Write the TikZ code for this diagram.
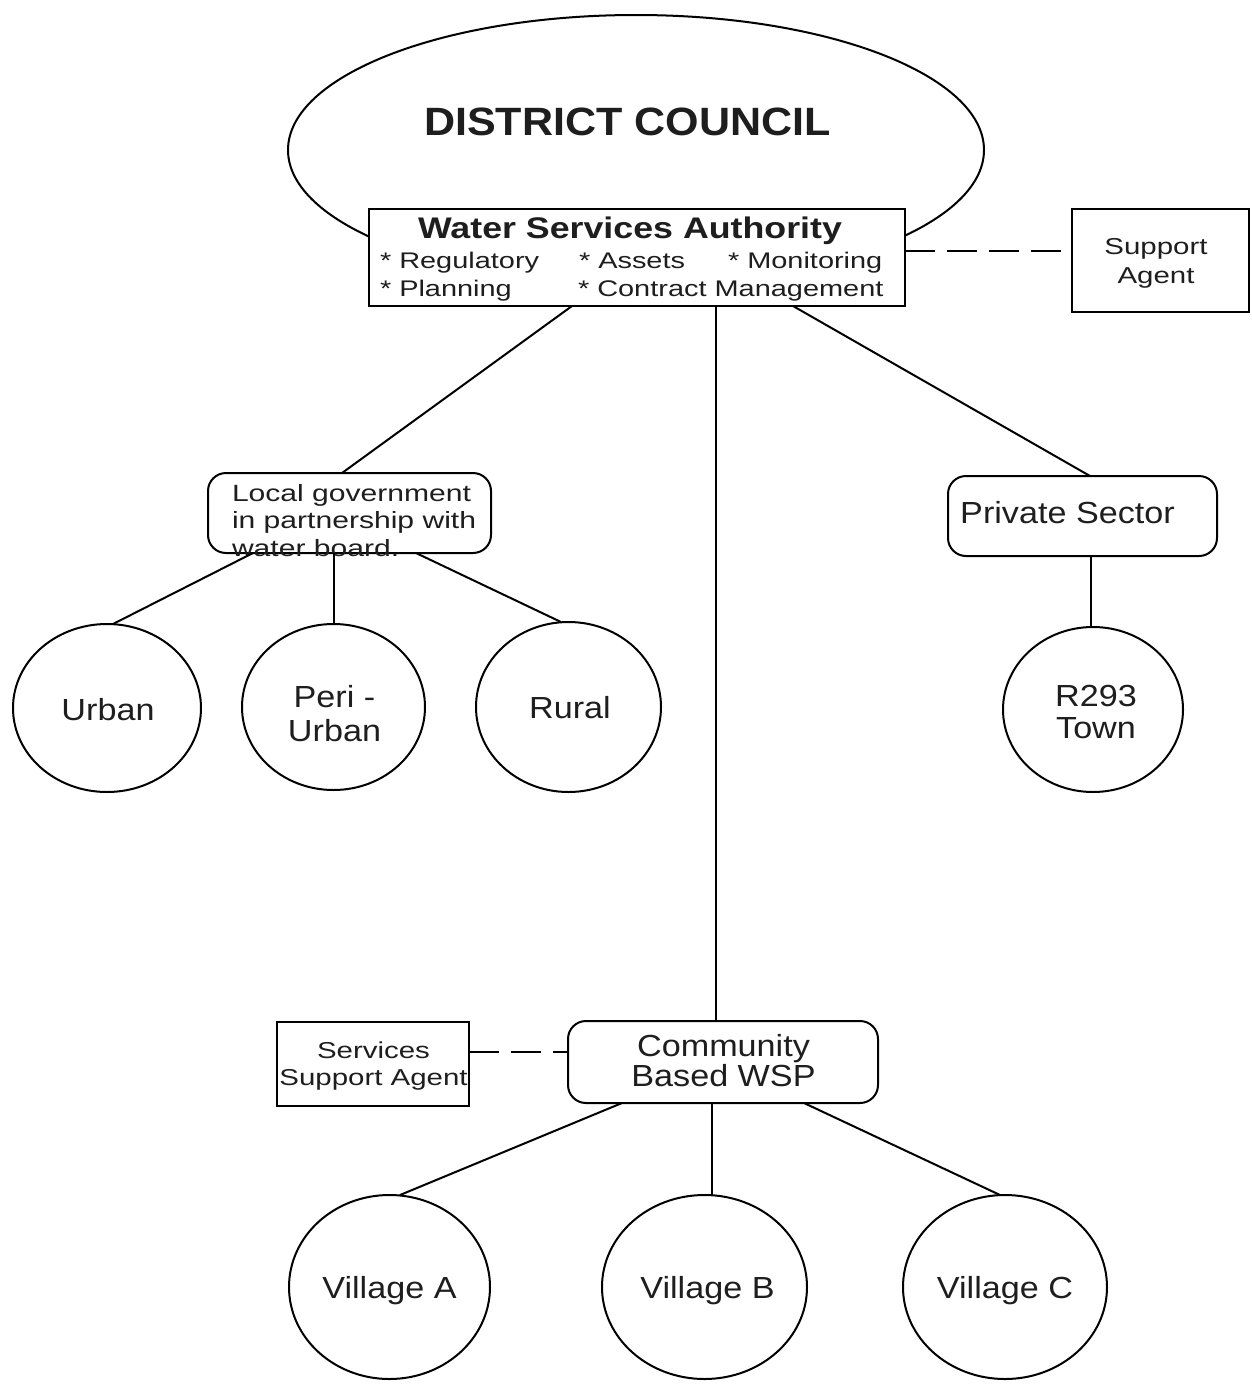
\documentclass[tikz,border=0pt]{standalone}
\usepackage{fontspec}
\setmainfont{Liberation Sans}
\newfontfamily\mainfam[FakeStretch=1.12]{Liberation Sans}
\newfontfamily\smallfam[FakeStretch=1.28]{Liberation Sans}
\newfontfamily\titlefam[FakeStretch=1.09]{Liberation Sans}
\newfontfamily\wsafam[FakeStretch=1.2]{Liberation Sans}
\usetikzlibrary{shapes.geometric}
\definecolor{ink}{HTML}{1E1E1E}
\begin{document}
\begin{tikzpicture}[x=1pt,y=-1pt,
  every node/.style={inner sep=0pt, outer sep=0pt},
  conn/.style={draw=black, line width=2pt},
  dashconn/.style={draw=black, line width=2pt, dash pattern=on 30pt off 12pt},
  sqbox/.style={draw=black, line width=2pt, fill=white, rectangle},
  rbox/.style={draw=black, line width=2pt, fill=white, rectangle, rounded corners=18pt},
  oval/.style={draw=black, line width=2pt, ellipse, fill=white},
  maintxt/.style={text=ink, align=center, font=\mainfam\fontsize{30.5}{34}\selectfont},
  smalltxt/.style={text=ink, align=center, font=\smallfam\fontsize{23}{28.5}\selectfont},
  bullettxt/.style={text=ink, anchor=base west, font=\smallfam\fontsize{22.6}{28.5}\selectfont},
]
\useasboundingbox[fill=white] (0,0) rectangle (1251,1384);

% District council
\node[oval, minimum width=696pt, minimum height=270pt] (dc) at (636,150) {};
\node[anchor=base, text=ink, font=\titlefam\bfseries\fontsize{39.5}{42}\selectfont] (dcT) at (627.5,135) {DISTRICT COUNCIL};

% Water Services Authority
\node[sqbox, minimum width=536pt, minimum height=97pt] (wsa) at (637,257.5) {};
\node[anchor=base, text=ink, font=\wsafam\bfseries\fontsize{29.8}{32}\selectfont] (wsaT) at (630,238) {Water Services Authority};
\node[bullettxt] (b1) at (380,268) {* Regulatory};
\node[bullettxt] (b2) at (579,268) {* Assets};
\node[bullettxt] (b3) at (728,268) {* Monitoring};
\node[bullettxt] (b4) at (380,296.5) {* Planning};
\node[bullettxt] (b5) at (578,296.5) {* Contract Management};

% Support agent
\node[sqbox, minimum width=177pt, minimum height=103pt] (sa) at (1160.5,260.5) {};
\node[smalltxt] (saT) at (1156,263.6) {Support\\Agent};

% Local government
\node[rbox, minimum width=283pt, minimum height=80pt] (lg) at (349.5,513) {};
\node[smalltxt, align=left, anchor=north west, font=\smallfam\fontsize{23.5}{27.5}\selectfont] (lgT) at (232,484) {Local government\\in partnership with\\water board.};

% Private sector
\node[rbox, minimum width=269pt, minimum height=80pt] (ps) at (1082.5,516) {};
\node[maintxt, anchor=base] (psT) at (1067.5,523.3) {Private Sector};

% Circles second level
\node[oval, minimum width=188pt, minimum height=168pt] (urban) at (107,708) {};
\node[maintxt, anchor=base] (urbanT) at (108,720) {Urban};
\node[oval, minimum width=183pt, minimum height=166pt] (peri) at (333.5,707) {};
\node[maintxt, font=\mainfam\fontsize{30.5}{34}\selectfont] (periT) at (334.5,713.9) {Peri -\\Urban};
\node[oval, minimum width=185pt, minimum height=170pt] (rural) at (568.5,707) {};
\node[maintxt, anchor=base] (ruralT) at (570,718) {Rural};
\node[oval, minimum width=180pt, minimum height=165pt] (town) at (1093,709.5) {};
\node[maintxt, font=\mainfam\fontsize{30.5}{32}\selectfont] (townT) at (1096,711.7) {R293\\Town};

% Community based WSP
\node[rbox, minimum width=310pt, minimum height=82pt] (cb) at (723,1062) {};
\node[maintxt, font=\mainfam\fontsize{30.5}{30}\selectfont] (cbT) at (723.5,1061) {Community\\Based WSP};

% Services support agent
\node[sqbox, minimum width=192pt, minimum height=84pt] (ssa) at (373,1064) {};
\node[smalltxt, font=\smallfam\fontsize{23}{27.3}\selectfont] (ssaT) at (373.5,1065.7) {Services\\Support Agent};

% Villages
\node[oval, minimum width=201pt, minimum height=184pt] (va) at (389.5,1287) {};
\node[maintxt, anchor=base] (vaT) at (389.5,1298) {Village A};
\node[oval, minimum width=205pt, minimum height=184pt] (vb) at (704.5,1287) {};
\node[maintxt, anchor=base] (vbT) at (707.5,1298) {Village B};
\node[oval, minimum width=204pt, minimum height=184pt] (vc) at (1005,1287) {};
\node[maintxt, anchor=base] (vcT) at (1005,1298) {Village C};

% Connectors
\draw[conn] ([xshift=-65pt]wsa.south) -- ([xshift=-7.5pt]lg.north);
\draw[conn] ([xshift=79pt]wsa.south) -- ([xshift=-7pt]cb.north);
\draw[conn] ([xshift=156pt]wsa.south) -- ([xshift=7.5pt]ps.north);
\draw[conn] ([xshift=-96.5pt]lg.south) -- ([xshift=6pt]urban.north);
\draw[conn] ([xshift=-15.5pt]lg.south) -- ([xshift=0.5pt]peri.north);
\draw[conn] ([xshift=66.5pt]lg.south) -- ([xshift=-7.5pt]rural.north);
\draw[conn] ([xshift=8.5pt]ps.south) -- ([xshift=-2pt]town.north);
\draw[conn] ([xshift=-101pt]cb.south) -- ([xshift=10.5pt]va.north);
\draw[conn] ([xshift=-11pt]cb.south) -- ([xshift=7.5pt]vb.north);
\draw[conn] ([xshift=81pt]cb.south) -- ([xshift=-5pt]vc.north);
\draw[dashconn] ([yshift=6.5pt]wsa.east) -- ([yshift=6.5pt]wsa.east -| sa.west);
\draw[dashconn] ([yshift=12pt]ssa.east) -- ([yshift=12pt]ssa.east -| cb.west);
\end{tikzpicture}
\end{document}
